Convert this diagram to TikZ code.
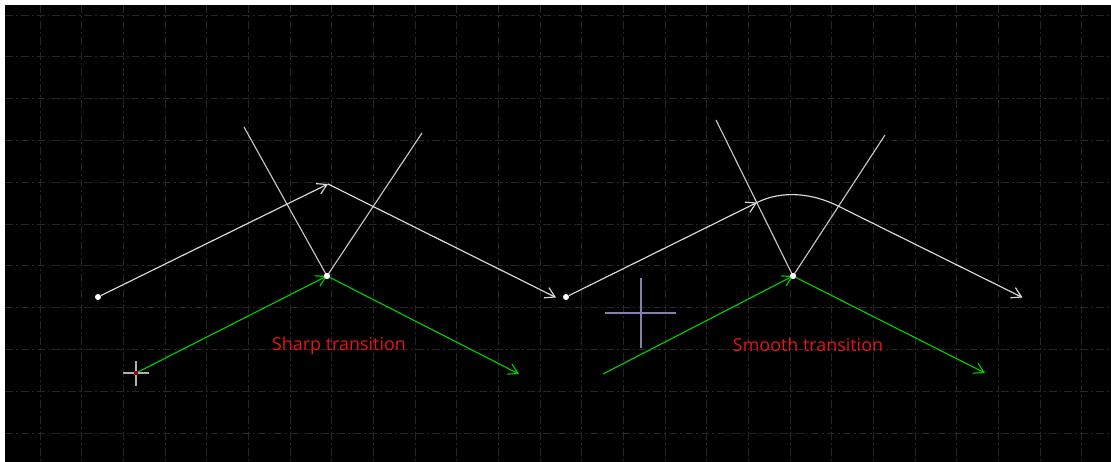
\documentclass[tikz,border=0pt]{standalone}
\usepackage{fontspec}
\setmainfont{Open Sans}
\usetikzlibrary{arrows.meta}
\definecolor{gridgray}{RGB}{38,38,38}
\definecolor{trailwhite}{RGB}{220,220,220}
\definecolor{guidepink}{RGB}{205,195,195}
\definecolor{motiongreen}{RGB}{0,205,0}
\definecolor{capred}{RGB}{232,20,20}
\definecolor{pinblue}{RGB}{130,130,172}
\definecolor{cursorgray}{RGB}{175,175,175}
\definecolor{cursorred}{RGB}{150,0,30}
\tikzset{
  >={Straight Barb[length=5.5pt,width=6.5pt]},
  grid line/.style={draw=gridgray, line width=0.55pt, dash pattern=on 4.5pt off 1.7pt on 1.1pt off 1.7pt},
  vertex/.style={circle, fill=white, inner sep=0pt, minimum size=3.4pt},
  trail/.style={draw=trailwhite, line width=0.65pt},
  guide/.style={draw=guidepink, line width=0.65pt},
  motion/.style={draw=motiongreen, line width=0.65pt},
  caption/.style={text=capred, font=\fontsize{10.2}{12}\selectfont, anchor=base},
  cursor arm/.style={draw=cursorgray, line width=1pt},
  pin arm/.style={draw=pinblue, line width=0.9pt},
}

\begin{document}
\begin{tikzpicture}[x=0.02cm, y=-0.02cm]
    \useasboundingbox (0,0) rectangle (1111,462);
    \fill[white] (0,0) rectangle (1111,462);
    \fill[black] (5,5) rectangle (1111,462);
    \foreach \gx in {0,...,25}
      \draw[grid line] ({40+41.67*\gx},5) -- ({40+41.67*\gx},462);
    \foreach \gy in {0,...,10}
      \draw[grid line] (5,{15+41.8*\gy}) -- (1111,{15+41.8*\gy});

    % sharp
    \coordinate (t1) at (328,184);
    \coordinate (e1) at (556,297.5);
    \coordinate (u1) at (244,127);
    \coordinate (v1) at (422,133);
    \coordinate (cursor) at (136,373);
    \coordinate (h1) at (519,374);
    \node[vertex] (s1) at (98,297) {};
    \node[vertex] (p1) at (327,276) {};

    % smooth
    \coordinate (t2) at (757,202.5);
    \coordinate (m2) at (838,206);
    \coordinate (e2) at (1022.5,297.5);
    \coordinate (u2) at (716,120);
    \coordinate (v2) at (885,135);
    \coordinate (g2) at (603,374);
    \coordinate (h2) at (985,373);
    \coordinate (pin) at (641,313);
    \node[vertex] (s2) at (566,297) {};
    \node[vertex] (p2) at (793,276) {};

    \path
      (p1.center) edge[guide] (u1)
      (p1.center) edge[guide] (v1)
      (p2.center) edge[guide] (u2)
      (p2.center) edge[guide] (v2);

    \path[->]
      (s1) edge[trail] (t1)
      (t1) edge[trail] (e1)
      (s2) edge[trail] (t2)
      (cursor) edge[motion] (p1.center)
      (p1.center) edge[motion] (h1)
      (g2) edge[motion] (p2.center)
      (p2.center) edge[motion] (h2);
    \draw[trail, ->] (t2) .. controls +(25.6,-12.6) and +(-25.5,-12.7) .. (m2) -- (e2);

    \node[vertex] at (p1) {};
    \node[vertex] at (p2) {};

    \draw[cursor arm] (cursor) ++(-13,0) -- ++(26,0) (cursor) ++(0,-12) -- ++(0,25);
    \fill[cursorred] (cursor) ++(-1.8,-1.8) rectangle ++(3.6,3.6);
    \draw[pin arm] (pin) ++(-36,0) -- ++(71,0) (pin) ++(0,-35) -- ++(0,70);

    \node[caption] (sharp) at (339,350) {Sharp transition};
    \node[caption] (smooth) at (808,351) {Smooth transition};
\end{tikzpicture}
\end{document}
